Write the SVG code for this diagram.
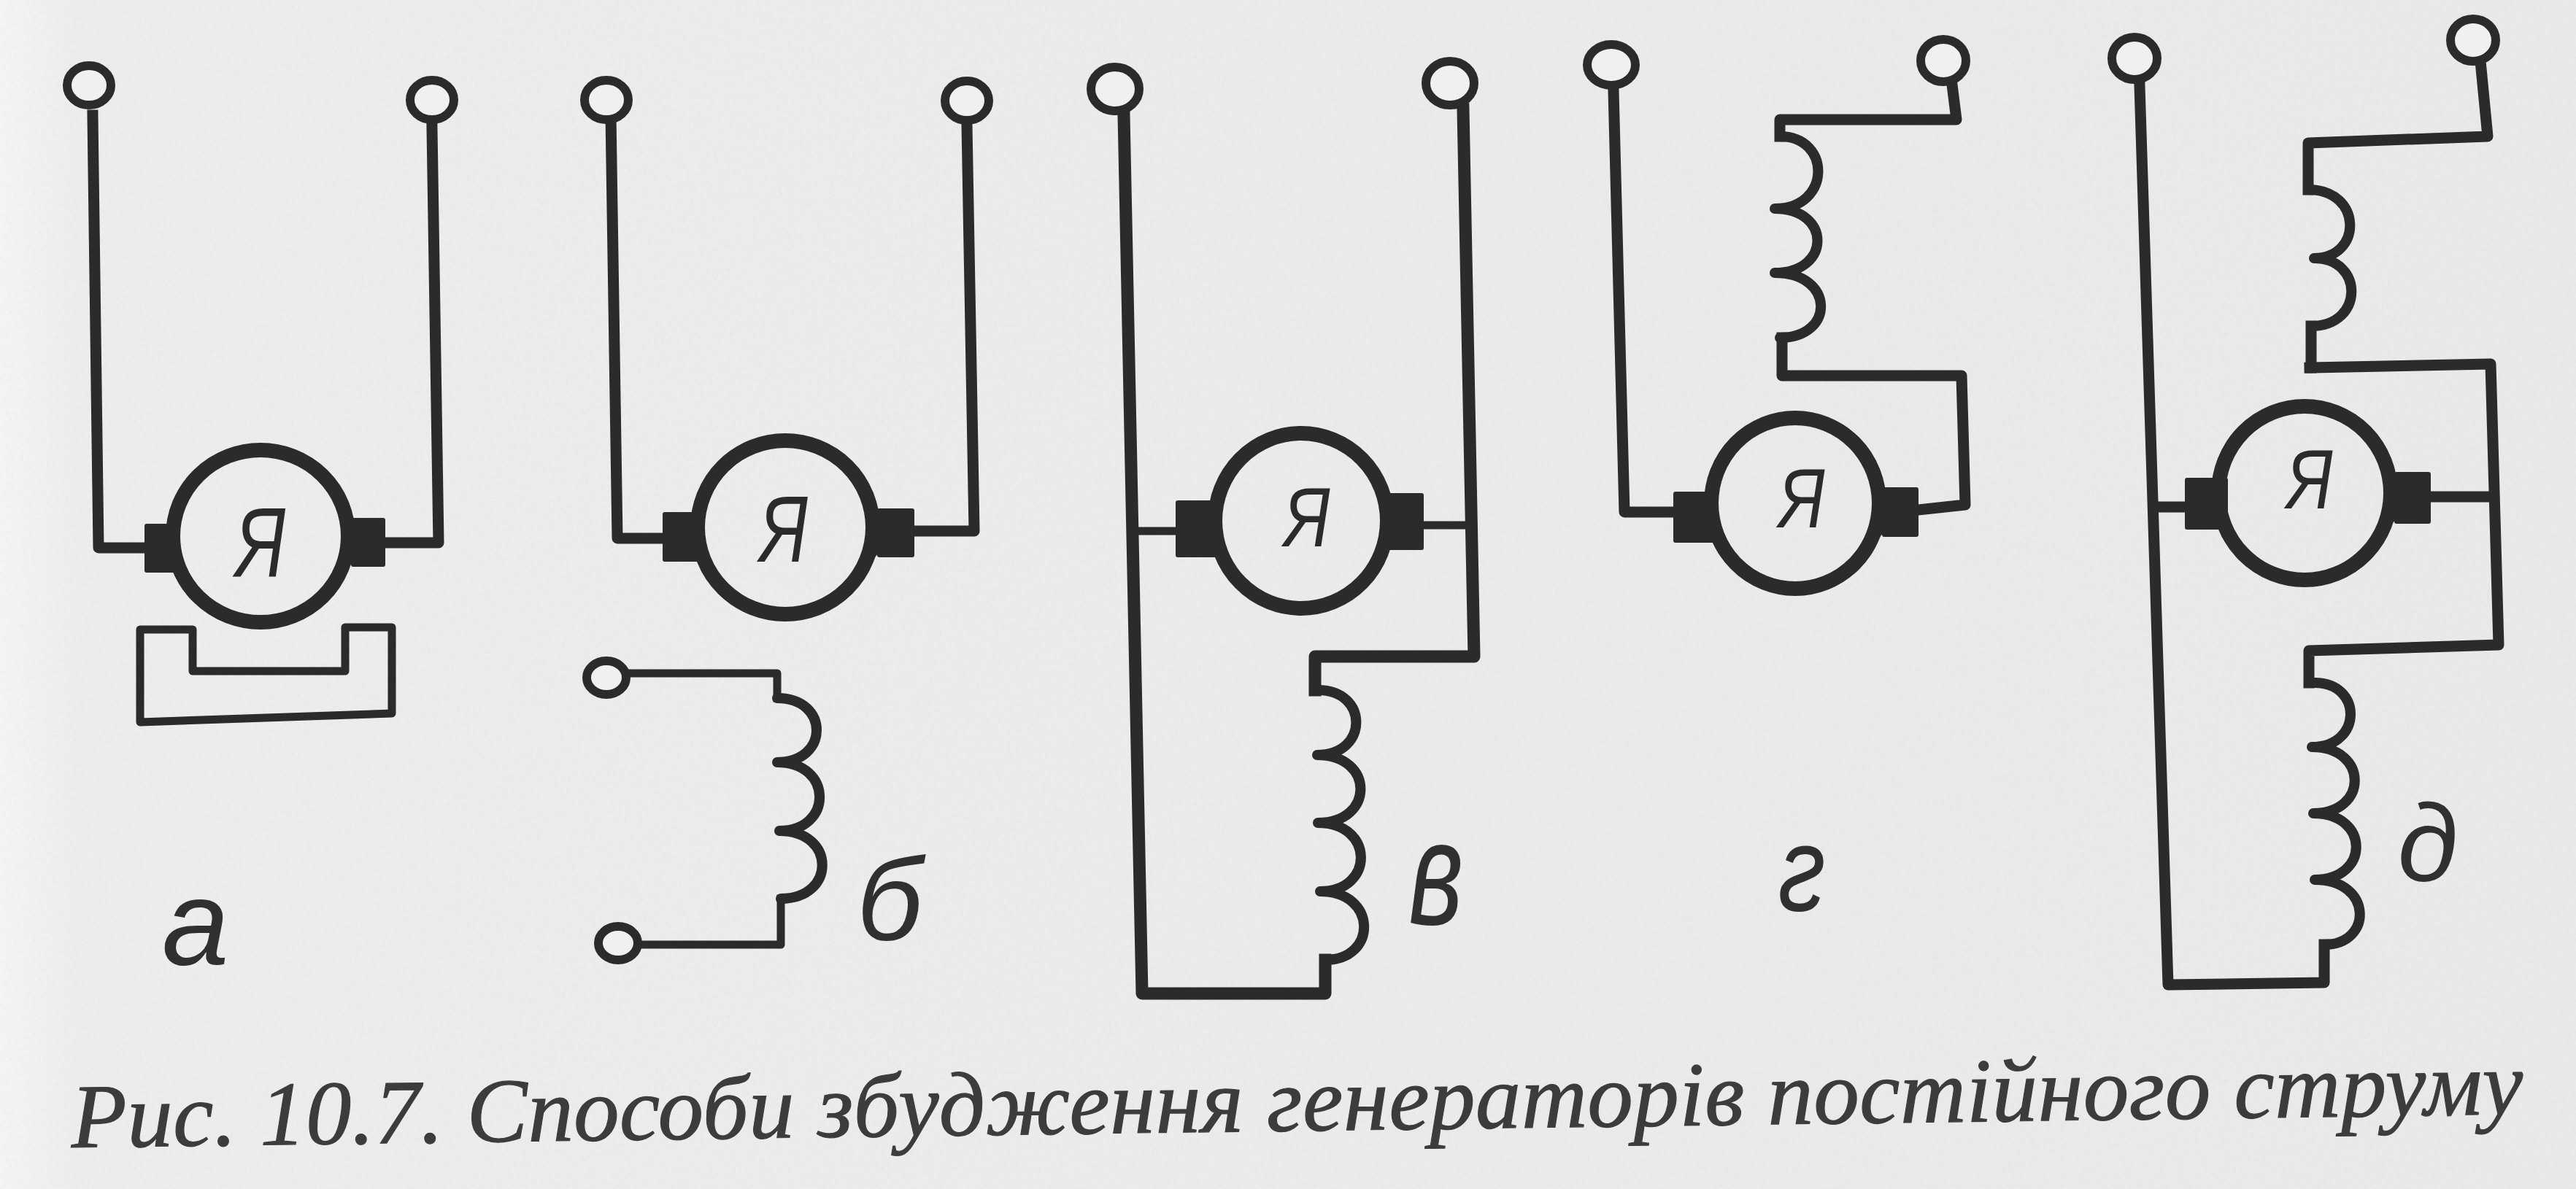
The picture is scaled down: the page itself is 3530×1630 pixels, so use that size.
<svg xmlns="http://www.w3.org/2000/svg" width="3530" height="1630" viewBox="0 0 3530 1630">
<style>
.w{fill:none;stroke:#2b2b2b;stroke-width:15;stroke-linejoin:round;stroke-linecap:square}
.h{fill:none;stroke:#2b2b2b;stroke-width:17;stroke-linejoin:round;stroke-linecap:square}
.t{fill:none;stroke:#2b2b2b;stroke-width:11;stroke-linejoin:round;stroke-linecap:square}
.c{fill:none;stroke:#2b2b2b;stroke-width:14;stroke-linejoin:round;stroke-linecap:round}
.term{fill:#f0f0f0;stroke:#2b2b2b;stroke-width:12}
.arm{fill:none;stroke:#2b2b2b;stroke-width:20}
.br{fill:#2b2b2b}
.ya{font-family:"Liberation Sans",sans-serif;font-style:italic;fill:#2b2b2b;text-anchor:middle}
.lb{font-family:"Liberation Sans",sans-serif;font-style:italic;fill:#303030;text-anchor:middle}
.cap{font:italic 125px "Liberation Serif",serif;fill:#3c3c3c;stroke:#3c3c3c;stroke-width:1.2}
</style>
<defs>
<filter id="grain" x="0" y="0" width="100%" height="100%">
<feTurbulence type="fractalNoise" baseFrequency="0.25" numOctaves="3" seed="4"/>
<feColorMatrix type="matrix" values="0 0 0 0 0.55 0 0 0 0 0.55 0 0 0 0 0.55 0.18 0 0 0 0"/>
</filter>
<linearGradient id="edge" x1="0" x2="1" y1="0" y2="0">
<stop offset="0" stop-color="#f8f8f8"/><stop offset="0.03" stop-color="#f0f0f0"/><stop offset="1" stop-color="#ececec"/>
</linearGradient>
</defs>
<rect width="3530" height="1630" fill="url(#edge)"/>
<rect width="3530" height="1630" filter="url(#grain)"/>

<g id="connectors">
<path class="w" d="M127 158L135 751H197"/>
<path class="w" d="M592 176L601 744H529"/>
<path class="w" d="M837 158L846 738H908"/>
<path class="w" d="M1325 172L1335 728H1253"/>
<path class="t" d="M860 923H1065V957"/>
<path class="t" d="M880 1295H1070V1232"/>
<path class="h" d="M1540 158L1565 1362H1816V1316"/>
<path class="h" d="M2005 150L2020 900H1802V946"/>
<path class="t" d="M1550 728H1611"/>
<path class="t" d="M1951 720H2012"/>
<path class="w" d="M2211 124L2226 702H2293"/>
<path class="w" d="M2629 699L2693 692L2688 515H2442V463"/>
<path class="w" d="M2439 187V164H2681L2675 116"/>
<path class="w" d="M2932 118L2971 1350L3185 1347V1295"/>
<path class="w" d="M2953 695H2994"/>
<path class="w" d="M3331 681H3413"/>
<path class="w" d="M3165 504L3413 499L3424 884L3164 892V936"/>
<path class="w" d="M3167 447V504"/>
<path class="w" d="M3163 260V196L3409 187L3400 94"/>
</g>

<g id="terminals">
<ellipse class="term" cx="122" cy="117" rx="30" ry="27"/>
<ellipse class="term" cx="592" cy="137" rx="30" ry="27"/>
<ellipse class="term" cx="831" cy="137" rx="30" ry="27"/>
<ellipse class="term" cx="1325" cy="138" rx="30" ry="27"/>
<ellipse class="term" cx="831" cy="929" rx="27" ry="23"/>
<ellipse class="term" cx="847" cy="1293" rx="27" ry="23"/>
<ellipse class="term" cx="1528" cy="122" rx="33" ry="30"/>
<ellipse class="term" cx="1987" cy="114" rx="33" ry="30"/>
<ellipse class="term" cx="2208" cy="89" rx="33" ry="28"/>
<ellipse class="term" cx="2663" cy="83" rx="31" ry="29"/>
<ellipse class="term" cx="2925" cy="80" rx="31" ry="29"/>
<ellipse class="term" cx="3389" cy="55" rx="31" ry="29"/>
</g>

<g id="machine-a">
<rect class="br" x="198" y="718" width="48" height="67" rx="3"/>
<rect class="br" x="481" y="710" width="47" height="67" rx="3"/>
<polygon class="br" points="245,725 246,683 244,735 246,787 245,778"/>
<polygon class="br" points="485,718 468,683 470,735 468,787 485,768"/>
<ellipse class="arm" cx="357" cy="735" rx="120" ry="118"/>
<text class="ya" style="font-size:135px" transform="translate(357 791) scale(.74 1)">Я</text>
</g>
<g id="pole-a">
<path class="t" d="M192 863H264V920H473V860H537V978L192 990Z"/>
</g>
<text id="label-a" class="lb" style="font-size:165px" x="268" y="1322">а</text>

<g id="machine-b">
<rect class="br" x="908" y="702" width="58" height="68" rx="3"/>
<rect class="br" x="1202" y="697" width="51" height="67" rx="3"/>
<polygon class="br" points="962,710 967,671 965,723 967,775 962,762"/>
<polygon class="br" points="1206,705 1189,671 1191,723 1189,775 1206,756"/>
<ellipse class="arm" cx="1076" cy="723" rx="120" ry="119"/>
<text class="ya" style="font-size:130px" transform="translate(1074 770) scale(.74 1)">Я</text>
</g>
<g id="coil-b">
<path class="c" d="M1065 957C1137 957 1137 1045 1065 1045C1142 1045 1142 1139 1068 1139C1146 1139 1146 1232 1070 1232"/>
</g>
<text id="label-b" class="lb" style="font-size:160px" x="1219" y="1288">б</text>

<g id="machine-c">
<rect class="br" x="1611" y="686" width="57" height="78" rx="3"/>
<rect class="br" x="1900" y="676" width="51" height="78" rx="3"/>
<polygon class="br" points="1664,694 1672,662 1670,714 1672,766 1664,756"/>
<polygon class="br" points="1904,684 1894,662 1896,714 1894,766 1904,746"/>
<ellipse class="arm" cx="1783" cy="714" rx="118" ry="120"/>
<text class="ya" style="font-size:115px" transform="translate(1791 749) scale(.8 1)">Я</text>
</g>
<g id="coil-c">
<path class="c" d="M1806 946C1876 946 1876 1035 1805 1035C1884 1035 1884 1128 1806 1128C1884 1128 1884 1222 1809 1222C1888 1222 1888 1316 1816 1316"/>
</g>
<text id="label-c" class="lb" style="font-size:205px" transform="translate(1968 1267) scale(.7 1)">в</text>

<g id="machine-d">
<rect class="br" x="2293" y="674" width="58" height="70" rx="3"/>
<rect class="br" x="2579" y="668" width="50" height="68" rx="3"/>
<polygon class="br" points="2347,682 2349,638 2347,690 2349,742 2347,736"/>
<polygon class="br" points="2583,676 2571,638 2573,690 2571,742 2583,728"/>
<ellipse class="arm" cx="2460" cy="690" rx="115" ry="117"/>
<text class="ya" style="font-size:115px" transform="translate(2469 723) scale(.8 1)">Я</text>
</g>
<g id="coil-d">
<path class="c" d="M2439 187C2510 187 2510 286 2432 286C2510 286 2510 374 2432 374C2515 374 2515 463 2439 463"/>
</g>
<text id="label-d" class="lb" style="font-size:165px" transform="translate(2469 1248) scale(.8 1)">г</text>

<g id="machine-e">
<rect class="br" x="2994" y="655" width="59" height="71" rx="3"/>
<rect class="br" x="3281" y="647" width="50" height="71" rx="3"/>
<polygon class="br" points="3049,663 3047,624 3045,676 3047,728 3049,718"/>
<polygon class="br" points="3285,655 3269,624 3271,676 3269,728 3285,710"/>
<ellipse class="arm" cx="3158" cy="676" rx="118" ry="119"/>
<text class="ya" style="font-size:115px" transform="translate(3165 697) scale(.8 1)">Я</text>
</g>
<g id="coil-e1">
<path class="c" d="M3163 260C3238 260 3238 354 3171 354C3240 354 3240 447 3167 447"/>
</g>
<g id="coil-e2">
<path class="c" d="M3172 936C3238 936 3238 1024 3168 1024C3246 1024 3246 1115 3170 1115C3248 1115 3248 1206 3172 1206C3252 1206 3252 1295 3185 1295"/>
</g>
<text id="label-e" class="lb" style="font-size:150px" x="3327" y="1208">д</text>

<text id="caption" class="cap" x="98" y="1573" transform="rotate(-0.78 98 1573)" textLength="3360" lengthAdjust="spacing">Рис. 10.7. Способи збудження генераторів постійного струму</text>
</svg>
